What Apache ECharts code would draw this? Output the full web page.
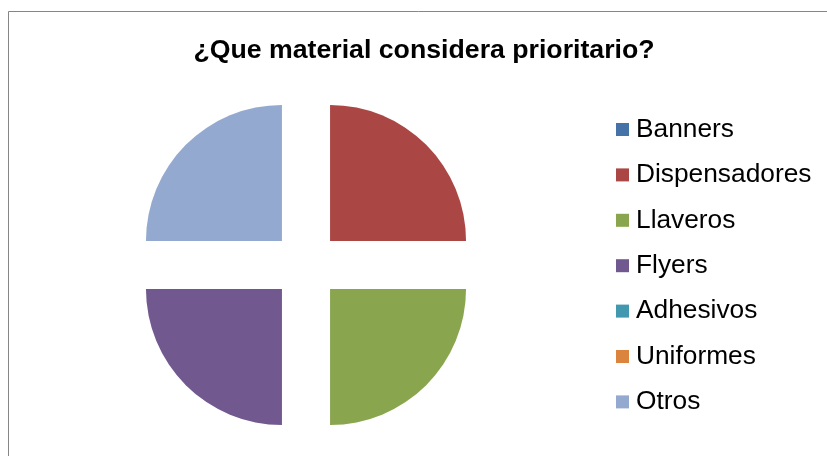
<!DOCTYPE html>
<html>
<head>
<meta charset="utf-8">
<style>
  html, body { margin: 0; padding: 0; background: #ffffff; }
  #chart { width: 827px; height: 456px; }
</style>
<script src="https://cdn.jsdelivr.net/npm/echarts@6/dist/echarts.min.js"></script>
</head>
<body>
<div id="chart"></div>
<script>
// Survey answers: share of respondents per preferred material
const categories = ['Banners', 'Dispensadores', 'Llaveros', 'Flyers', 'Adhesivos', 'Uniformes', 'Otros'];
const values = [0, 1, 1, 1, 0, 0, 1];
const colors = ['#4572A7', '#AA4643', '#89A54E', '#71588F', '#4198AF', '#DB843D', '#93A9CF'];
const titleText = '¿Que material considera prioritario?';

const FONT = 'Liberation Sans, Arial, sans-serif';

const chart = echarts.init(document.getElementById('chart'), null, { renderer: 'canvas' });

const pieData = categories.map((name, i) => ({
  name: name,
  value: values[i],
  selected: values[i] > 0,
  itemStyle: { color: colors[i] }
}));

chart.setOption({
  animation: false,
  backgroundColor: '#ffffff',
  graphic: [{
    type: 'rect',
    shape: { x: 8.5, y: 11.5, width: 900, height: 600 },
    style: { fill: 'none', stroke: '#868686', lineWidth: 1 },
    silent: true,
    z: -1
  }],
  title: {
    text: titleText,
    left: 424,
    top: 36,
    padding: 0,
    textAlign: 'center',
    textStyle: {
      fontFamily: FONT,
      fontSize: 26.7,
      fontWeight: 'bold',
      lineHeight: 30,
      color: '#000000'
    }
  },
  legend: {
    orient: 'vertical',
    left: 616,
    top: 114.5,
    padding: 0,
    icon: 'rect',
    itemWidth: 13,
    itemHeight: 13,
    itemGap: 15.4,
    selectedMode: false,
    data: categories,
    textStyle: {
      fontFamily: FONT,
      fontSize: 26.3,
      lineHeight: 30,
      color: '#000000',
      padding: [0, 0, 0, 2]
    }
  },
  series: [{
    type: 'pie',
    center: [306, 265],
    radius: 136,
    startAngle: 90,
    clockwise: true,
    selectedMode: 'multiple',
    selectedOffset: 34,
    avoidLabelOverlap: false,
    label: { show: false },
    labelLine: { show: false },
    emphasis: { disabled: true },
    itemStyle: { borderWidth: 0 },
    data: pieData
  }]
});
</script>
</body>
</html>
